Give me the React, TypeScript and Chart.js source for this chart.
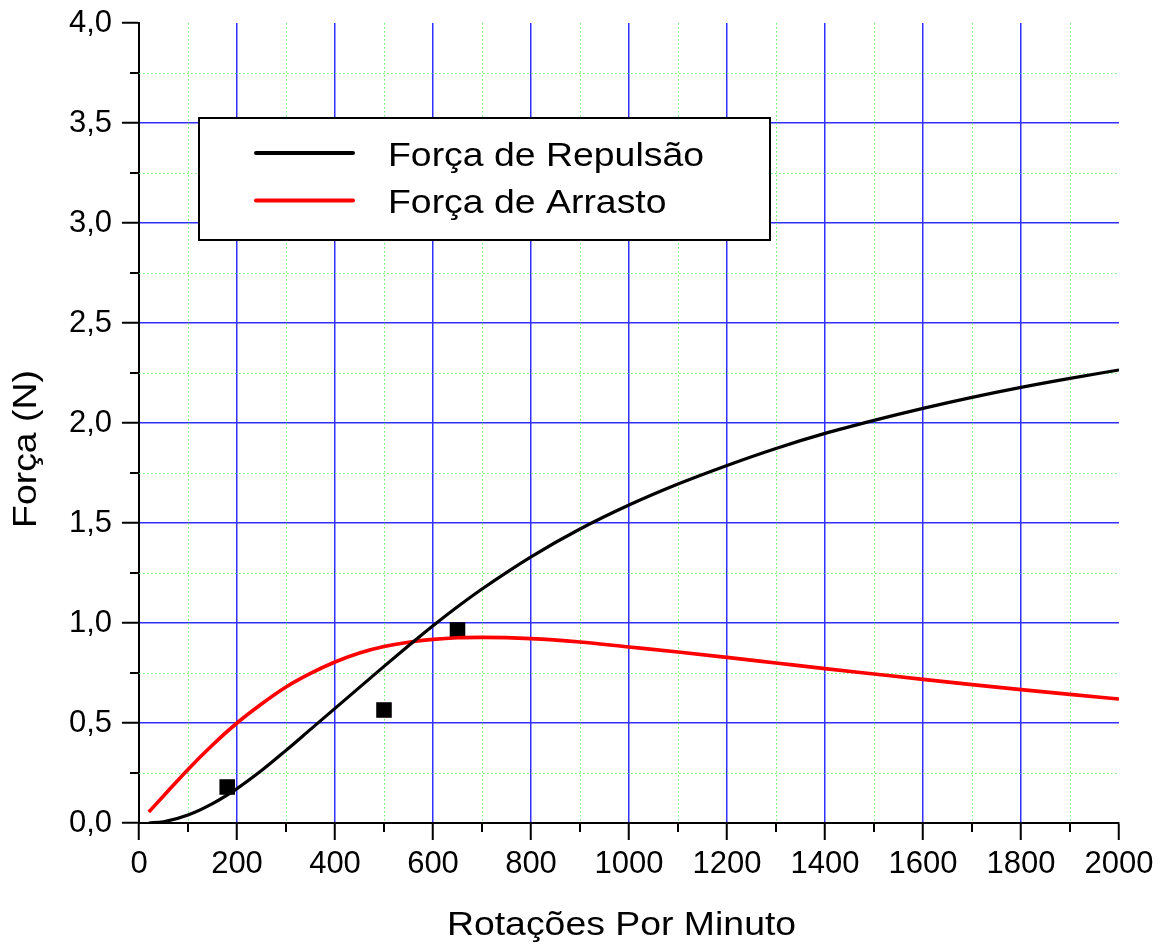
import React, { useEffect, useRef } from "react";
import { Chart, registerables } from "chart.js";

Chart.register(...registerables);

// ---- Data ----
const rpmGrid = [20, 50, 100, 150, 200, 250, 300, 350, 400, 450, 500, 550, 600, 650, 700, 800, 900, 1000, 1100, 1200, 1300, 1400, 1500, 1600, 1700, 1800, 1900, 2000];
const forcaRepulsao = [0.0, 0.006, 0.04, 0.097, 0.172, 0.262, 0.363, 0.468, 0.573, 0.678, 0.783, 0.886, 0.986, 1.081, 1.17, 1.331, 1.47, 1.59, 1.695, 1.788, 1.873, 1.948, 2.013, 2.073, 2.128, 2.178, 2.223, 2.265];
const forcaArrasto = [0.055, 0.135, 0.268, 0.39, 0.5, 0.595, 0.68, 0.748, 0.805, 0.85, 0.882, 0.904, 0.918, 0.926, 0.928, 0.922, 0.905, 0.88, 0.855, 0.828, 0.8, 0.772, 0.745, 0.718, 0.692, 0.667, 0.643, 0.62];
const medidoRpm = [180, 500, 650];
const medidoForca = [0.18, 0.565, 0.965];

const xMajorTicks = [0, 200, 400, 600, 800, 1000, 1200, 1400, 1600, 1800, 2000];
const xMinorTicks = [100, 300, 500, 700, 900, 1100, 1300, 1500, 1700, 1900];
const yMajorTicks = [0, 0.5, 1, 1.5, 2, 2.5, 3, 3.5, 4];
const yMinorTicks = [0.25, 0.75, 1.25, 1.75, 2.25, 2.75, 3.25, 3.75];

const legendLabels = ["Força de Repulsão", "Força de Arrasto"];
const legendColors = ["#000000", "#ff0000"];
const xTitle = "Rotações Por Minuto";
const yTitle = "Força (N)";

const FONT = "'Liberation Sans', Arial, sans-serif";

const decorPlugin = {
  id: "decor",
  beforeDatasetsDraw(chart: any) {
    const { ctx, chartArea, scales } = chart;
    const xs = scales.x;
    const ys = scales.y;
    ctx.save();
    // minor dotted grid
    ctx.strokeStyle = "#70f070";
    ctx.lineWidth = 1;
    ctx.setLineDash([1.5, 2.5]);
    xMinorTicks.forEach((v) => {
      const px = Math.round(xs.getPixelForValue(v)) + 0.5;
      ctx.beginPath();
      ctx.moveTo(px, chartArea.top);
      ctx.lineTo(px, chartArea.bottom);
      ctx.stroke();
    });
    yMinorTicks.forEach((v) => {
      const py = Math.round(ys.getPixelForValue(v)) + 0.5;
      ctx.beginPath();
      ctx.moveTo(chartArea.left, py);
      ctx.lineTo(chartArea.right, py);
      ctx.stroke();
    });
    ctx.setLineDash([]);
    // minor ticks
    ctx.strokeStyle = "#000";
    ctx.lineWidth = 2;
    xMinorTicks.forEach((v) => {
      const px = Math.round(xs.getPixelForValue(v));
      ctx.beginPath();
      ctx.moveTo(px, chartArea.bottom);
      ctx.lineTo(px, chartArea.bottom + 9);
      ctx.stroke();
    });
    yMinorTicks.forEach((v) => {
      const py = Math.round(ys.getPixelForValue(v));
      ctx.beginPath();
      ctx.moveTo(chartArea.left, py);
      ctx.lineTo(chartArea.left - 9, py);
      ctx.stroke();
    });
    ctx.restore();
  },
  afterDraw(chart: any) {
    const { ctx } = chart;
    ctx.save();
    ctx.fillStyle = "#000";
    ctx.font = `34px ${FONT}`;
    ctx.textBaseline = "alphabetic";
    ctx.textAlign = "center";
    // x title
    ctx.save();
    ctx.translate(621.5, 935);
    ctx.scale(1.1, 1);
    ctx.fillText(xTitle, 0, 0);
    ctx.restore();
    // y title
    ctx.save();
    ctx.translate(36, 449);
    ctx.rotate(-Math.PI / 2);
    ctx.scale(1.1, 1);
    ctx.fillText(yTitle, 0, 0);
    ctx.restore();

    // legend box
    const bx = 199, by = 118, bw = 571, bh = 122;
    ctx.fillStyle = "#fff";
    ctx.fillRect(bx, by, bw, bh);
    ctx.strokeStyle = "#000";
    ctx.lineWidth = 2;
    ctx.strokeRect(bx, by, bw, bh);
    const rows = [153, 200.5];
    legendLabels.forEach((label, i) => {
      const y = rows[i];
      ctx.strokeStyle = legendColors[i];
      ctx.lineWidth = 4;
      ctx.lineCap = "round";
      ctx.beginPath();
      ctx.moveTo(256, y);
      ctx.lineTo(353, y);
      ctx.stroke();
      ctx.fillStyle = "#000";
      ctx.textAlign = "left";
      ctx.save();
      ctx.translate(388, y + 12.5);
      ctx.scale(1.1, 1);
      ctx.fillText(label, 0, 0);
      ctx.restore();
    });
    ctx.restore();
  },
};

export default function App() {
  const canvasRef = useRef<HTMLCanvasElement | null>(null);

  useEffect(() => {
    if (!canvasRef.current) return;
    const toXY = (xsArr: number[], ysArr: number[]) => xsArr.map((x, i) => ({ x, y: ysArr[i] }));
    const chart = new Chart(canvasRef.current, {
      type: "line",
      data: {
        datasets: [
          {
            label: legendLabels[0],
            data: toXY(rpmGrid, forcaRepulsao),
            borderColor: "#000000",
            borderWidth: 3.2,
            pointRadius: 0,
            cubicInterpolationMode: "monotone",
            fill: false,
          },
          {
            label: legendLabels[1],
            data: toXY(rpmGrid, forcaArrasto),
            borderColor: "#ff0000",
            borderWidth: 3.6,
            pointRadius: 0,
            cubicInterpolationMode: "monotone",
            fill: false,
          },
          {
            label: "Medido",
            data: toXY(medidoRpm, medidoForca),
            showLine: false,
            pointStyle: "rect",
            pointRadius: 11,
            pointBorderWidth: 0,
            backgroundColor: "#000",
            borderColor: "#000",
          },
        ],
      },
      options: {
        animation: false,
        responsive: false,
        layout: { padding: { top: 23, right: 42, left: 0, bottom: 0 } },
        plugins: { legend: { display: false }, tooltip: { enabled: false } },
        scales: {
          x: {
            type: "linear",
            min: 0,
            max: 2000,
            afterBuildTicks: (scale: any) => {
              scale.ticks = xMajorTicks.map((v) => ({ value: v }));
            },
            afterFit: (scale: any) => {
              scale.height = 123;
              scale.paddingLeft = 0;
              scale.paddingRight = 0;
            },
            ticks: {
              autoSkip: false,
              maxRotation: 0,
              color: "#000",
              font: { family: FONT, size: 31 },
              padding: 6,
              callback: (v: any) => String(v),
            },
            grid: {
              color: (ctx: any) =>
                ctx.tick && (ctx.tick.value === 0 || ctx.tick.value === 2000) ? "rgba(0,0,0,0)" : "#3030ff",
              lineWidth: 1.5,
              tickColor: "#000",
              tickLength: 17,
              tickWidth: 2,
            },
            border: { color: "#000", width: 2 },
          },
          y: {
            type: "linear",
            min: 0,
            max: 4,
            afterBuildTicks: (scale: any) => {
              scale.ticks = yMajorTicks.map((v) => ({ value: v }));
            },
            afterFit: (scale: any) => {
              scale.width = 139;
              scale.paddingTop = 0;
              scale.paddingBottom = 0;
            },
            ticks: {
              autoSkip: false,
              color: "#000",
              font: { family: FONT, size: 31 },
              padding: 10,
              callback: (v: any) => Number(v).toFixed(1).replace(".", ","),
            },
            grid: {
              color: (ctx: any) =>
                ctx.tick && (ctx.tick.value === 0 || ctx.tick.value === 4) ? "rgba(0,0,0,0)" : "#3030ff",
              lineWidth: 1.5,
              tickColor: "#000",
              tickLength: 17,
              tickWidth: 2,
            },
            border: { color: "#000", width: 2 },
          },
        },
      },
      plugins: [decorPlugin],
    } as any);
    return () => chart.destroy();
  }, []);

  return (
    <div style={{ position: "absolute", left: 0, top: 0, width: 1161, height: 946, background: "#fff" }}>
      <canvas ref={canvasRef} width={1161} height={946} style={{ display: "block" }} />
    </div>
  );
}
